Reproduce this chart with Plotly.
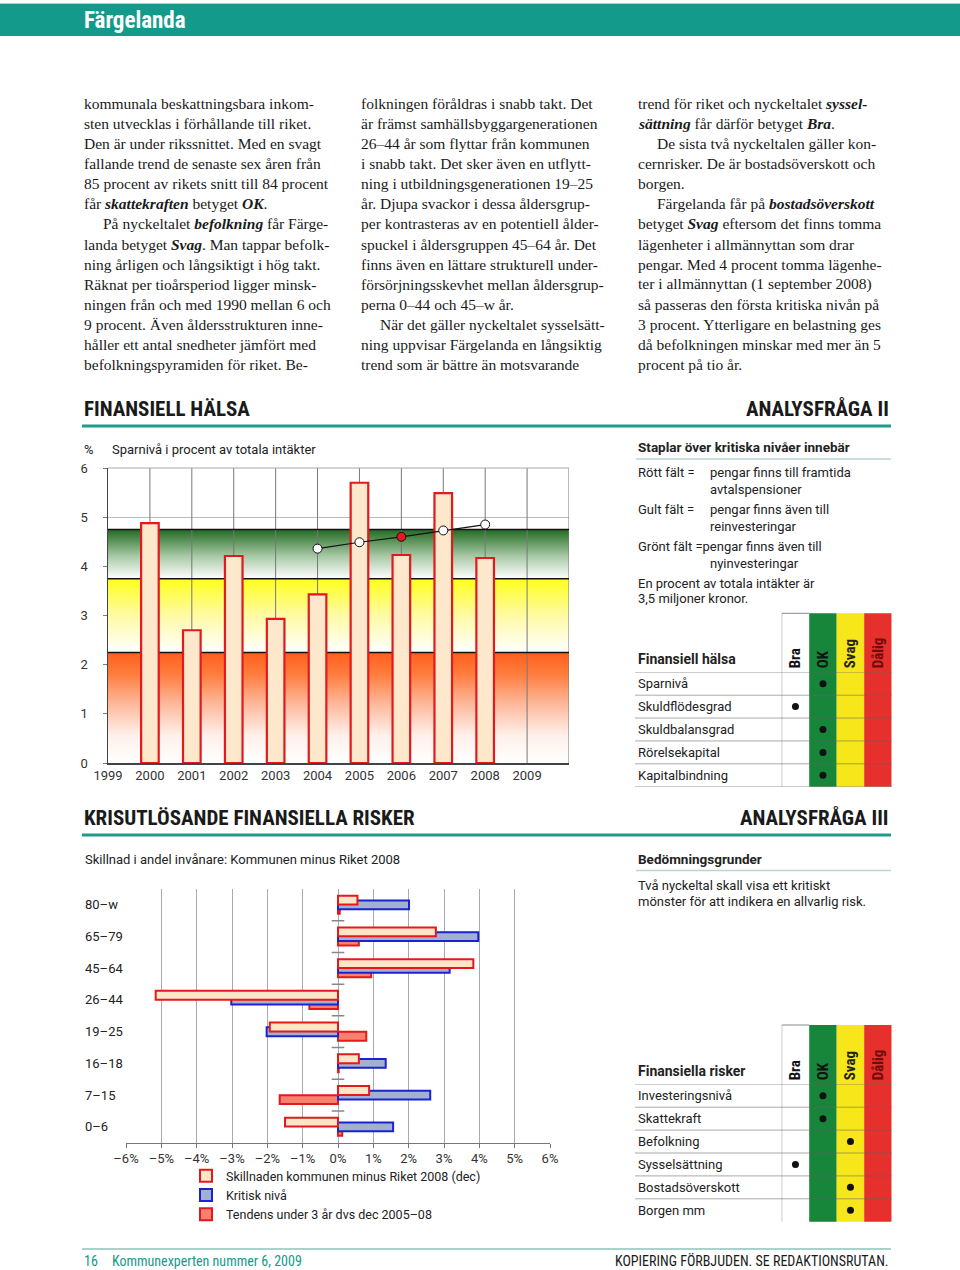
import plotly.graph_objects as go

W, H = 960, 1270
def px(x): return x / W
def py(y): return 1 - y / H

SERIF = "Liberation Serif, serif"
SANS = "Roboto, sans-serif"
COND = "Liberation Sans Narrow, Roboto Condensed, Roboto, sans-serif"
TEAL = "#149a8b"
TXT = "#222222"

# ---------------- data: chart 1 (Sparnivå) ----------------
years = [2000, 2001, 2002, 2003, 2004, 2005, 2006, 2007, 2008]
sparniva = [4.88, 2.70, 4.21, 2.93, 3.43, 5.70, 4.23, 5.49, 4.17]
trend_years = [2004, 2005, 2006, 2007, 2008]
trend_vals = [4.36, 4.49, 4.60, 4.73, 4.85]
trend_highlight = [False, False, True, False, False]
axis_years = list(range(1999, 2010))
band_levels = [0, 2.25, 3.75, 4.75]
y_ticks1 = [0, 1, 2, 3, 4, 5, 6]

# ---------------- data: chart 2 (age groups) ----------------
age_groups = ["0–6", "7–15", "16–18", "19–25", "26–44", "45–64", "65–79", "80–w"]
skillnad = [-1.50, 0.88, 0.59, -1.93, -5.16, 3.83, 2.77, 0.55]
kritisk = [1.56, 2.61, 1.35, -2.02, -3.02, 3.16, 3.97, 2.01]
tendens = [0.12, -1.65, 0.02, 0.80, -0.81, 0.94, 0.59, 0.05]
pct_ticks = list(range(-6, 7))
pct_labels = [("–" if v < 0 else "") + f"{abs(v)}%" for v in pct_ticks]

# ---------------- data: tables ----------------
grades = ["Bra", "OK", "Svag", "Dålig"]
grade_colors = ["#ffffff", "#17853a", "#f6e61a", "#e5302b"]
grade_text_colors = ["#111111", "#111111", "#222222", "#6e0b0b"]
health_rows = ["Sparnivå", "Skuldflödesgrad", "Skuldbalansgrad", "Rörelsekapital", "Kapitalbindning"]
health_grade = ["OK", "Bra", "OK", "OK", "OK"]
risk_rows = ["Investeringsnivå", "Skattekraft", "Befolkning", "Sysselsättning", "Bostadsöverskott", "Borgen mm"]
risk_grade = ["OK", "OK", "Svag", "Bra", "Svag", "Svag"]

# ---------------- body text ----------------
col1 = [
    (0, "kommunala beskattningsbara inkom-"),
    (0, "sten utvecklas i förhållande till riket."),
    (0, "Den är under rikssnittet. Med en svagt"),
    (0, "fallande trend de senaste sex åren från"),
    (0, "85 procent av rikets snitt till 84 procent"),
    (0, "får <b><i>skattekraften</i></b> betyget <b><i>OK</i></b>."),
    (19, "På nyckeltalet <b><i>befolkning</i></b> får Färge-"),
    (0, "landa betyget <b><i>Svag</i></b>. Man tappar befolk-"),
    (0, "ning årligen och långsiktigt i hög takt."),
    (0, "Räknat per tioårsperiod ligger minsk-"),
    (0, "ningen från och med 1990 mellan 6 och"),
    (0, "9 procent. Även åldersstrukturen inne-"),
    (0, "håller ett antal snedheter jämfört med"),
    (0, "befolkningspyramiden för riket. Be-"),
]
col2 = [
    (0, "folkningen föråldras i snabb takt. Det"),
    (0, "är främst samhällsbyggargenerationen"),
    (0, "26–44 år som flyttar från kommunen"),
    (0, "i snabb takt. Det sker även en utflytt-"),
    (0, "ning i utbildningsgenerationen 19–25"),
    (0, "år. Djupa svackor i dessa åldersgrup-"),
    (0, "per kontrasteras av en potentiell ålder-"),
    (0, "spuckel i åldersgruppen 45–64 år. Det"),
    (0, "finns även en lättare strukturell under-"),
    (0, "försörjningsskevhet mellan åldersgrup-"),
    (0, "perna 0–44 och 45–w år."),
    (19, "När det gäller nyckeltalet sysselsätt-"),
    (0, "ning uppvisar Färgelanda en långsiktig"),
    (0, "trend som är bättre än motsvarande"),
]
col3 = [
    (0, "trend för riket och nyckeltalet <b><i>syssel-</i></b>"),
    (0, "<b><i>sättning</i></b> får därför betyget <b><i>Bra</i></b>."),
    (19, "De sista två nyckeltalen gäller kon-"),
    (0, "cernrisker. De är bostadsöverskott och"),
    (0, "borgen."),
    (19, "Färgelanda får på <b><i>bostadsöverskott</i></b>"),
    (0, "betyget <b><i>Svag</i></b> eftersom det finns tomma"),
    (0, "lägenheter i allmännyttan som drar"),
    (0, "pengar. Med 4 procent tomma lägenhe-"),
    (0, "ter i allmännyttan (1 september 2008)"),
    (0, "så passeras den första kritiska nivån på"),
    (0, "3 procent. Ytterligare en belastning ges"),
    (0, "då befolkningen minskar med mer än 5"),
    (0, "procent på tio år."),
]

fig = go.Figure()
annotations = []
shapes = []

def text(x, y, s, size=13, family=SANS, color=TXT, anchor="left"):
    annotations.append(dict(x=px(x), y=py(y), xref="paper", yref="paper", text=s,
                            showarrow=False, xanchor=anchor, yanchor="middle",
                            font=dict(size=size, family=family, color=color)))

def hline(x0, x1, y, color, width):
    shapes.append(dict(type="line", xref="paper", yref="paper", x0=px(x0), x1=px(x1),
                       y0=py(y), y1=py(y), line=dict(color=color, width=width)))

# ---------------- header / headings / footer ----------------
shapes.append(dict(type="rect", xref="paper", yref="paper", x0=0, x1=1, y0=py(36), y1=py(4),
                   fillcolor=TEAL, line=dict(width=0)))
hline(0, 960, 3.5, "#9fd6cf", 1)
text(82, 21, "<b>Färgelanda</b>", size=23, family=COND, color="white")

text(82, 409, "<b>FINANSIELL HÄLSA</b>", size=21, family=COND, color="#1a1a1a")
text(891, 409, "<b>ANALYSFRÅGA II</b>", size=21, family=COND, color="#1a1a1a", anchor="right")
hline(82, 891, 426, "#1f9a8b", 3)
text(82, 818, "<b>KRISUTLÖSANDE FINANSIELLA RISKER</b>", size=21, family=COND, color="#1a1a1a")
text(891, 818, "<b>ANALYSFRÅGA III</b>", size=21, family=COND, color="#1a1a1a", anchor="right")
hline(82, 891, 835, "#1f9a8b", 3)

hline(82, 891, 1249, "#8cc3bb", 1.5)
text(82, 1261, "16", size=14, family=COND, color=TEAL)
text(110, 1261, "Kommunexperten nummer 6, 2009", size=14, family=COND, color=TEAL)
text(891, 1261, "KOPIERING FÖRBJUDEN. SE REDAKTIONSRUTAN.", size=14, family=COND, color="#1a1a1a", anchor="right")

# ---------------- body columns ----------------
for cx, col in [(82, col1), (359, col2), (636, col3)]:
    for i, (ind, s) in enumerate(col):
        text(cx + ind, 103 + 20.15 * i, s, size=15.5, family=SERIF, color="#1a1a1a")

# ---------------- chart 1 ----------------
text(82, 449, "%", size=13)
text(110, 449, "Sparnivå i procent av totala intäkter", size=13)

band_scales = [
    [[0, "#ffffff"], [0.25, "#fff0ea"], [0.55, "#fdb596"], [0.8, "#ff7d3e"], [1, "#ff5f1c"]],
    [[0, "#ffffff"], [0.5, "#fffaa4"], [1, "#ffff1c"]],
    [[0, "#ffffff"], [0.45, "#a9caa7"], [1, "#226b22"]],
]
for i in range(3):
    lo, hi = band_levels[i], band_levels[i + 1]
    fig.add_trace(go.Scatter(
        x=[axis_years[0], 2010, 2010, axis_years[0], axis_years[0]], y=[lo, lo, hi, hi, lo],
        mode="lines", fill="toself", line=dict(width=0),
        fillgradient=dict(type="vertical", colorscale=band_scales[i], start=lo, stop=hi),
        hoverinfo="skip", showlegend=False, xaxis="x", yaxis="y"))

gx, gy = [], []
for yr in axis_years[1:] + [2010]:
    gx += [yr, yr, None]
    gy += [y_ticks1[0], y_ticks1[-1], None]
fig.add_trace(go.Scatter(x=gx, y=gy, mode="lines", line=dict(color="#777777", width=1),
                         hoverinfo="skip", showlegend=False, xaxis="x", yaxis="y"))
bx, by = [], []
for lvl in band_levels[1:]:
    bx += [axis_years[0], 2010, None]
    by += [lvl, lvl, None]
fig.add_trace(go.Scatter(x=bx, y=by, mode="lines", line=dict(color="#111111", width=1.5),
                         hoverinfo="skip", showlegend=False, xaxis="x", yaxis="y"))

# bars and trend on an overlaying subplot so they sit above the gradient bands
fig.add_trace(go.Bar(x=years, y=sparniva, width=0.42,
                     marker=dict(color="#fde8cc", line=dict(color="#e3191c", width=2.2)),
                     showlegend=False, xaxis="x5", yaxis="y5"))
fig.add_trace(go.Scatter(
    x=trend_years, y=trend_vals, mode="lines+markers",
    line=dict(color="#111111", width=1.2),
    marker=dict(size=9, color=["#e3191c" if h else "white" for h in trend_highlight],
                line=dict(color="#111111", width=1)),
    showlegend=False, xaxis="x5", yaxis="y5"))

shapes.append(dict(type="line", xref="x domain", yref="y domain", x0=0, x1=1, y0=1, y1=1,
                   line=dict(color="#aaaaaa", width=1)))

# ---------------- chart 2 ----------------
text(83, 859, "Skillnad i andel invånare: Kommunen minus Riket 2008", size=13)
pos = list(range(len(age_groups)))
fig.add_trace(go.Bar(y=pos, x=tendens, orientation="h", width=0.28, offset=-0.282,
                     name="Tendens under 3 år dvs dec 2005–08", legendrank=3,
                     marker=dict(color="#f7806e", line=dict(color="#e3191c", width=2)),
                     xaxis="x2", yaxis="y2"))
fig.add_trace(go.Bar(y=pos, x=kritisk, orientation="h", width=0.28, offset=-0.14,
                     name="Kritisk nivå", legendrank=2,
                     marker=dict(color="#a2b1cf", line=dict(color="#1b22d0", width=2)),
                     xaxis="x2", yaxis="y2"))
fig.add_trace(go.Bar(y=pos, x=skillnad, orientation="h", width=0.28, offset=0.008,
                     name="Skillnaden kommunen minus Riket 2008 (dec)", legendrank=1,
                     marker=dict(color="#fde6c8", line=dict(color="#e3191c", width=2)),
                     xaxis="x2", yaxis="y2"))
sep = [p + 0.5 for p in pos[:-1]]
fig.add_trace(go.Scatter(x=[0] * len(sep), y=sep, mode="markers",
                         marker=dict(symbol="line-ew", size=9, line=dict(color="#888888", width=1.5)),
                         hoverinfo="skip", showlegend=False, xaxis="x2", yaxis="y2"))
for i, g in enumerate(age_groups):
    annotations.append(dict(x=px(83), xref="paper", y=pos[i], yref="y2", text=g, showarrow=False,
                            xanchor="left", yanchor="middle", font=dict(size=13, family=SANS, color=TXT)))

# ---------------- right-hand texts ----------------
text(636, 447, "<b>Staplar över kritiska nivåer innebär</b>", size=13.5)
hline(636, 891, 459, "#b9d6d2", 1.5)
text(636, 473, "Rött fält =")
text(708, 473, "pengar finns till framtida")
text(708, 489, "avtalspensioner")
text(636, 510, "Gult fält =")
text(708, 510, "pengar finns även till")
text(708, 526, "reinvesteringar")
text(636, 547, "Grönt fält =pengar finns även till")
text(708, 563, "nyinvesteringar")
text(636, 583, "En procent av totala intäkter är")
text(636, 599, "3,5 miljoner kronor.")

text(636, 859, "<b>Bedömningsgrunder</b>", size=13.5)
hline(636, 891, 870.5, "#b9d6d2", 1.5)
text(636, 885, "Två nyckeltal skall visa ett kritiskt")
text(636, 901, "mönster för att indikera en allvarlig risk.")

# ---------------- tables ----------------
def table(xa, ya, rows, grade_of, head_top, body_top, body_bot, title, bottom_line):
    n = len(rows)
    for i, c in enumerate(grade_colors):
        shapes.append(dict(type="rect", xref=xa, yref="paper", x0=i - 0.5, x1=i + 0.5,
                           y0=py(body_bot), y1=py(head_top), fillcolor=c, line=dict(width=0), layer="below"))
    shapes.append(dict(type="line", xref=xa, yref="paper", x0=-0.5, x1=-0.5,
                       y0=py(body_bot), y1=py(head_top), line=dict(color="#888888", width=1)))
    shapes.append(dict(type="line", xref=xa, yref="paper", x0=-0.5, x1=0.5,
                       y0=py(head_top), y1=py(head_top), line=dict(color="#888888", width=1)))
    last = n + 1 if bottom_line else n
    for k in range(last):
        yv = n - 0.5 - k
        shapes.append(dict(type="line", xref="paper", yref=ya, x0=px(635), x1=px(891.7),
                           y0=yv, y1=yv, line=dict(color="rgba(100,100,100,0.55)", width=1)))
    yvals = [n - 1 - i for i in range(n)]
    for i, r in enumerate(rows):
        annotations.append(dict(x=px(636), xref="paper", y=yvals[i], yref=ya, text=r, showarrow=False,
                                xanchor="left", yanchor="middle", font=dict(size=13, family=SANS, color=TXT)))
    fig.add_trace(go.Scatter(x=[grades.index(g) for g in grade_of], y=yvals, mode="markers",
                             marker=dict(size=7, color="#111111"), hoverinfo="skip", showlegend=False,
                             xaxis=xa, yaxis=ya))
    text(636, body_top - 13.5, f"<b>{title}</b>", size=14)

table("x3", "y3", health_rows, health_grade, 613.3, 672.3, 786.7, "Finansiell hälsa", True)
table("x4", "y4", risk_rows, risk_grade, 1025, 1084.3, 1221.7, "Finansiella risker", False)

head_text = [f"<b><span style='color:{c}'>{g}</span></b>" for g, c in zip(grades, grade_text_colors)]

dom1x = [px(108), px(569)]
dom1y = [py(763), py(468)]

fig.update_layout(
    width=W, height=H, margin=dict(l=0, r=0, t=0, b=0, pad=0, autoexpand=False),
    paper_bgcolor="white", plot_bgcolor="white",
    hovermode=False, barmode="overlay",
    font=dict(family=SANS, size=13, color=TXT),
    annotations=annotations, shapes=shapes,
    legend=dict(x=px(186), y=py(1161), xanchor="left", yanchor="top",
                font=dict(size=12.5, family=SANS, color=TXT), bgcolor="rgba(0,0,0,0)",
                tracegroupgap=0, itemclick=False),
    xaxis=dict(domain=dom1x, range=[axis_years[0], 2010], anchor="y", automargin=False,
               tickvals=axis_years, ticktext=[str(v) for v in axis_years],
               showgrid=False, zeroline=False, showline=True, linecolor="#444444", linewidth=1.5,
               ticks="", tickfont=dict(size=13, color="#333")),
    yaxis=dict(domain=dom1y, range=[0, 6], anchor="x", automargin=False,
               tickvals=y_ticks1, showgrid=True, gridcolor="#bbbbbb", zeroline=False,
               showline=True, linecolor="#444444", linewidth=1.5,
               ticks="outside", ticklen=4, tickcolor="#777", ticklabelstandoff=12,
               tickfont=dict(size=13, color="#333")),
    xaxis5=dict(domain=dom1x, range=[axis_years[0], 2010], anchor="y5", overlaying="x",
                visible=False, automargin=False),
    yaxis5=dict(domain=dom1y, range=[0, 6], anchor="x5", overlaying="y",
                visible=False, automargin=False),
    xaxis2=dict(domain=[px(126), px(550)], range=[-6, 6], anchor="y2", automargin=False,
                tickvals=pct_ticks, ticktext=pct_labels, showgrid=True, gridcolor="#aaaaaa",
                zeroline=False, showline=True, linecolor="#777777", ticks="outside", ticklen=4,
                tickcolor="#777", tickfont=dict(size=13, color="#333")),
    yaxis2=dict(domain=[py(1142.7), py(889)], range=[-0.5, len(age_groups) - 0.5], anchor="x2",
                automargin=False, showticklabels=False, showgrid=False, zeroline=False, showline=False),
    xaxis3=dict(domain=[px(781.7), px(891.7)], range=[-0.5, 3.5], anchor="y3", side="top",
                automargin=False, tickvals=[0, 1, 2, 3], ticktext=head_text, tickangle=-90, ticks="",
                showgrid=False, zeroline=False, showline=False, ticklabelstandoff=3,
                tickfont=dict(size=15, family=COND)),
    yaxis3=dict(domain=[py(786.7), py(672.3)], range=[-0.5, len(health_rows) - 0.5], anchor="x3",
                visible=False, automargin=False),
    xaxis4=dict(domain=[px(781.7), px(891.7)], range=[-0.5, 3.5], anchor="y4", side="top",
                automargin=False, tickvals=[0, 1, 2, 3], ticktext=head_text, tickangle=-90, ticks="",
                showgrid=False, zeroline=False, showline=False, ticklabelstandoff=3,
                tickfont=dict(size=15, family=COND)),
    yaxis4=dict(domain=[py(1221.7), py(1084.3)], range=[-0.5, len(risk_rows) - 0.5], anchor="x4",
                visible=False, automargin=False),
)

fig.write_html("out.html", config={"displayModeBar": False, "staticPlot": True},
               post_script="document.body.style.margin='0';document.body.style.padding='0';"
                           "document.body.style.overflow='hidden';")
